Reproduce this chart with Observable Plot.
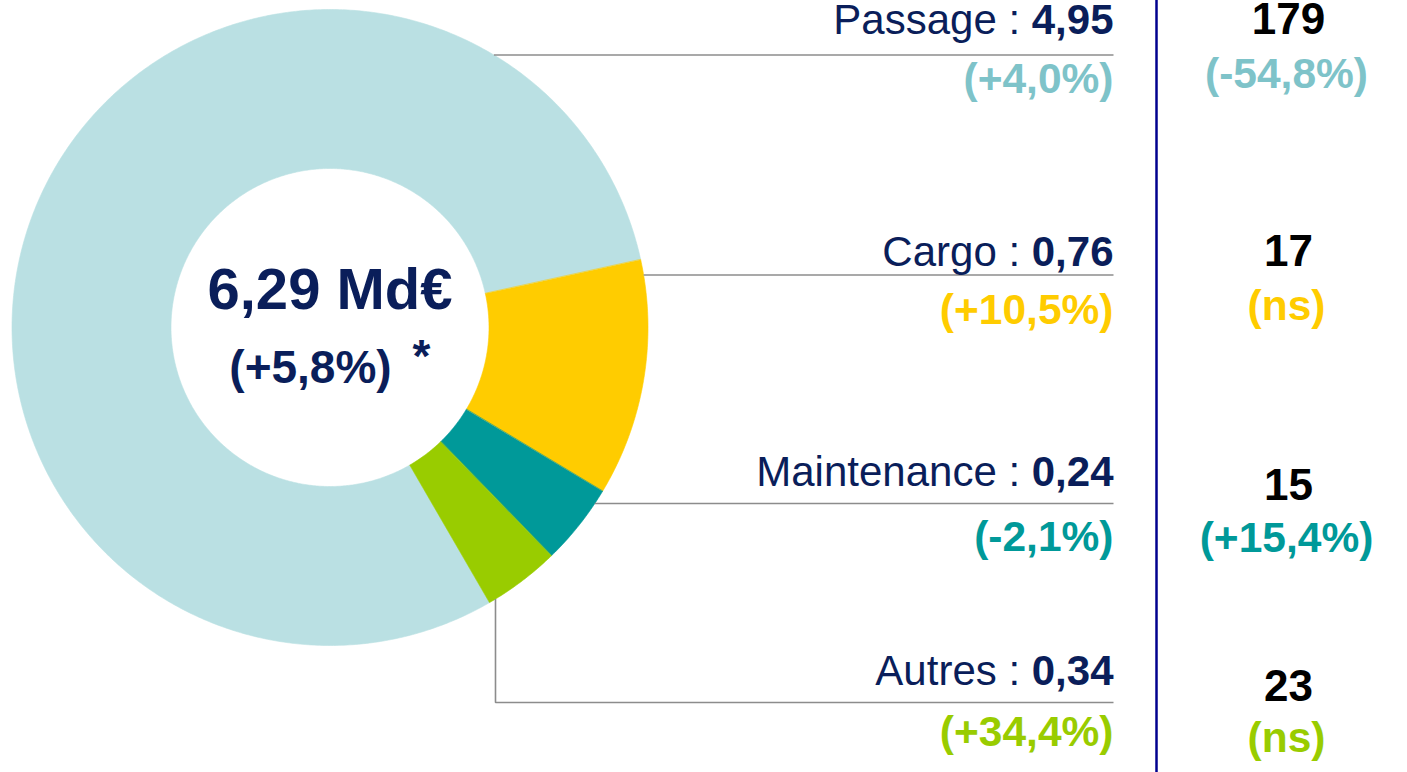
<!DOCTYPE html>
<html>
<head>
<meta charset="utf-8">
<script src="https://cdn.jsdelivr.net/npm/d3@7"></script>
<script src="https://cdn.jsdelivr.net/npm/@observablehq/plot@0.6"></script>
<style>
  html, body { margin: 0; padding: 0; background: #fff; overflow: hidden; }
  #chart svg { display: block; }
</style>
</head>
<body>
<div id="chart"></div>
<script>
// ---------- DATA ----------
const categories     = ["Passage", "Cargo", "Maintenance", "Autres"];
const revenueLabels  = ["4,95", "0,76", "0,24", "0,34"];
const revenueChanges = ["(+4,0%)", "(+10,5%)", "(-2,1%)", "(+34,4%)"];
// slice sizes as drawn in the picture (Md€)
const sliceSizes     = [5.03, 0.757, 0.26, 0.245];
const resultLabels   = ["179", "17", "15", "23"];
const resultChanges  = ["(-54,8%)", "(ns)", "(+15,4%)", "(ns)"];
const totalLabel     = "6,29 Md€";
const totalChange    = "(+5,8%)";
const totalNote      = "*";

// ---------- STYLE / LAYOUT ----------
const W = 1407, H = 772;
const FONT = "'Liberation Sans', Arial, Helvetica, sans-serif";
const navy = "#0A1E5A";
const sliceColors  = ["#BAE0E3", "#FFCC00", "#009999", "#99CC00"];
const changeColors = ["#7EC3C9", "#FFCC00", "#009999", "#99CC00"];
const cx = 329.5, cy = 327, R = 318, r0 = 159;
const startDeg = 149.9;
const labelRight = 1113;
const resultX = 1288;
const sepX = 1156;
const nameSize = 42, pctSize = 42.5, resSize = 44, resPctSize = 42.5;
const rowLayout = [
  {lineY: 54.5,  nameY: 33,  pctY: 92,  resY: 33,  resPctY: 87},
  {lineY: 274.5, nameY: 265, pctY: 323, resY: 265, resPctY: 319},
  {lineY: 503,   nameY: 485, pctY: 550, resY: 499, resPctY: 551},
  {lineY: 702,   nameY: 684, pctY: 745, resY: 700, resPctY: 751}
];
const autresLeaderX = 495;

// text measuring helper
const ctx = document.createElement("canvas").getContext("2d");
function textWidth(t, font) { ctx.font = font; return ctx.measureText(t).width; }

// ---------- DONUT GEOMETRY (from data via d3.pie) ----------
const sliceData = categories.map((c, i) => ({cat: c, size: sliceSizes[i]}));
const a0 = startDeg * Math.PI / 180;
const arcs = d3.pie().sort(null).value(d => d.size).startAngle(a0).endAngle(a0 + 2 * Math.PI)(sliceData);
const donutPts = [];
for (const a of arcs) {
  const n = Math.max(6, Math.ceil((a.endAngle - a.startAngle) / (Math.PI / 360)));
  for (let i = 0; i <= n; i++) {
    const t = a.startAngle + (a.endAngle - a.startAngle) * i / n;
    donutPts.push({cat: a.data.cat, x: cx + R * Math.sin(t), y: cy - R * Math.cos(t)});
  }
  for (let i = n; i >= 0; i--) {
    const t = a.startAngle + (a.endAngle - a.startAngle) * i / n;
    donutPts.push({cat: a.data.cat, x: cx + r0 * Math.sin(t), y: cy - r0 * Math.cos(t)});
  }
}

// ---------- LABEL TABLE ----------
const boldF = `bold ${nameSize}px ${FONT}`;
const regF = `${nameSize}px ${FONT}`;
const rows = categories.map((c, i) => {
  const L = rowLayout[i];
  return {
    cat: c, name: c + " :", value: revenueLabels[i], change: revenueChanges[i],
    result: resultLabels[i], resultChange: resultChanges[i],
    color: changeColors[i],
    ...L,
    nameX: labelRight - textWidth(revenueLabels[i], boldF) - textWidth(" ", regF)
  };
});

// leader lines, starting on the outer edge of the donut
const leaderPts = [];
rows.forEach((d, i) => {
  if (i < 3) {
    const x0 = cx + Math.sqrt(R * R - (d.lineY - cy) ** 2);
    leaderPts.push({k: i, x: x0, y: d.lineY}, {k: i, x: labelRight, y: d.lineY});
  } else {
    const y0 = cy + Math.sqrt(R * R - (autresLeaderX - cx) ** 2);
    leaderPts.push({k: i, x: autresLeaderX, y: y0}, {k: i, x: autresLeaderX, y: d.lineY}, {k: i, x: labelRight, y: d.lineY});
  }
});

const chart = Plot.plot({
  width: W, height: H,
  margin: 0,
  style: {background: "#fff", fontFamily: FONT},
  x: {domain: [0, W], range: [0, W], axis: null},
  y: {domain: [0, H], range: [0, H], axis: null},
  color: {domain: categories, range: sliceColors},
  marks: [
    Plot.line(donutPts, {x: "x", y: "y", z: "cat", fill: "cat", stroke: "cat", strokeWidth: 0.6, curve: "linear-closed"}),
    Plot.line(leaderPts, {x: "x", y: "y", z: "k", stroke: "#8C8C8C", strokeWidth: 1.6, strokeLinecap: "butt", strokeLinejoin: "miter"}),
    Plot.ruleX([sepX], {stroke: "#00008E", strokeWidth: 2.5}),
    // left labels
    Plot.text(rows, {x: "nameX", y: "nameY", text: "name", textAnchor: "end", lineAnchor: "bottom", fontSize: nameSize, fill: navy, fontFamily: FONT}),
    Plot.text(rows, {x: labelRight, y: "nameY", text: "value", textAnchor: "end", lineAnchor: "bottom", fontSize: nameSize, fontWeight: "bold", fill: navy, fontFamily: FONT}),
    ...rows.map(d => Plot.text([d], {x: labelRight, y: "pctY", text: "change", textAnchor: "end", lineAnchor: "bottom", fontSize: pctSize, fontWeight: "bold", fill: d.color, fontFamily: FONT})),
    // right column
    Plot.text(rows, {x: resultX, y: "resY", text: "result", textAnchor: "middle", lineAnchor: "bottom", fontSize: resSize, fontWeight: "bold", fill: "#000", fontFamily: FONT}),
    ...rows.map(d => Plot.text([d], {x: resultX - 2, y: "resPctY", text: "resultChange", textAnchor: "middle", lineAnchor: "bottom", fontSize: resPctSize, fontWeight: "bold", fill: d.color, fontFamily: FONT})),
    // center
    Plot.text([totalLabel], {x: cx, y: 308, text: d => d, textAnchor: "middle", lineAnchor: "bottom", fontSize: 58, fontWeight: "bold", fill: navy, fontFamily: FONT}),
    Plot.text([totalChange], {x: 310, y: 382, text: d => d, textAnchor: "middle", lineAnchor: "bottom", fontSize: 46, fontWeight: "bold", fill: navy, fontFamily: FONT}),
    Plot.text([totalNote], {x: 421, y: 371, text: d => d, textAnchor: "middle", lineAnchor: "bottom", fontSize: 46, fontWeight: "bold", fill: navy, fontFamily: FONT})
  ]
});
document.getElementById("chart").appendChild(chart);
</script>
</body>
</html>
